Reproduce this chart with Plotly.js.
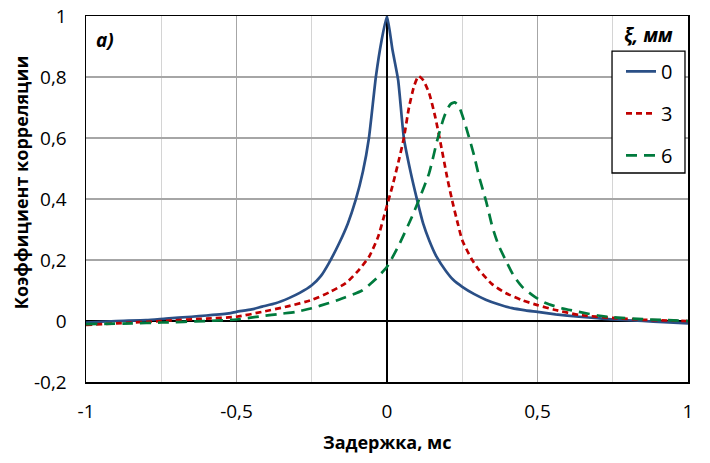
<!DOCTYPE html>
<html>
<head>
<meta charset="utf-8">
<script src="https://cdn.plot.ly/plotly-3.0.1.min.js"></script>
<style>
	html, body { margin: 0; padding: 0; background: #fff; }
	#chart { width: 710px; height: 463px; }
</style>
</head>
<body>
<div id="chart"></div>
<script>
// H| data
const names = ["0", "3", "6"]

const x0 = [-1, -0.9, -0.8, -0.735, -0.65, -0.6, -0.525, -0.5, -0.45, -0.415, -0.37, -0.326, -0.29, -0.25, -0.22, -0.193, -0.159, -0.13, -0.104, -0.08, -0.06, -0.037, -0.018, 0, 0.018, 0.037, 0.056, 0.078, 0.1, 0.12, 0.14, 0.165, 0.195, 0.22, 0.25, 0.29, 0.328, 0.37, 0.416, 0.46, 0.5, 0.56, 0.638, 0.7, 0.75, 0.85, 0.92, 1]
const y0 = [-0.005, 0, 0.003, 0.008, 0.014, 0.018, 0.025, 0.03, 0.038, 0.047, 0.058, 0.075, 0.092, 0.117, 0.147, 0.19, 0.255, 0.32, 0.397, 0.49, 0.6, 0.8, 0.92, 1, 0.89, 0.79, 0.6, 0.49, 0.397, 0.32, 0.265, 0.21, 0.165, 0.135, 0.112, 0.088, 0.07, 0.055, 0.042, 0.035, 0.03, 0.022, 0.014, 0.009, 0.005, 0, -0.004, -0.008]

const x3 = [-1, -0.9, -0.75, -0.6, -0.5, -0.415, -0.33, -0.25, -0.19, -0.137, -0.1, -0.06, -0.03, -0.004, 0.02, 0.04, 0.056, 0.073, 0.09, 0.105, 0.12, 0.14, 0.16, 0.178, 0.2, 0.216, 0.235, 0.25, 0.28, 0.306, 0.35, 0.394, 0.45, 0.5, 0.56, 0.638, 0.75, 0.85, 1]
const y3 = [-0.013, -0.008, 0, 0.008, 0.014, 0.03, 0.048, 0.069, 0.095, 0.124, 0.16, 0.21, 0.275, 0.364, 0.45, 0.53, 0.6, 0.7, 0.77, 0.803, 0.79, 0.747, 0.67, 0.583, 0.47, 0.397, 0.32, 0.265, 0.205, 0.167, 0.12, 0.092, 0.068, 0.052, 0.036, 0.02, 0.01, 0.004, 0]

const x6 = [-1, -0.85, -0.75, -0.6, -0.5, -0.415, -0.35, -0.303, -0.25, -0.193, -0.14, -0.083, -0.04, 0, 0.04, 0.083, 0.106, 0.14, 0.167, 0.19, 0.21, 0.225, 0.239, 0.255, 0.272, 0.29, 0.306, 0.33, 0.35, 0.37, 0.394, 0.42, 0.449, 0.49, 0.527, 0.58, 0.638, 0.7, 0.75, 0.85, 1]
const y6 = [-0.01, -0.008, -0.005, 0, 0.005, 0.016, 0.024, 0.03, 0.042, 0.059, 0.077, 0.1, 0.135, 0.178, 0.25, 0.342, 0.397, 0.485, 0.593, 0.67, 0.71, 0.717, 0.703, 0.66, 0.604, 0.54, 0.473, 0.39, 0.309, 0.25, 0.2, 0.15, 0.112, 0.08, 0.059, 0.042, 0.03, 0.018, 0.012, 0.006, 0]

const xTicks = [-1, -0.5, 0, 0.5, 1]
const xTickText = ["-1", "-0,5", "0", "0,5", "1"]
const yTicks = [-0.2, 0, 0.2, 0.4, 0.6, 0.8, 1]
const yTickText = ["-0,2", "0", "0,2", "0,4", "0,6", "0,8", "1"]

const FONT = "Open Sans, sans-serif"

const data = [
	{ x: x0, y: y0, name: names[0], legendgroup: "a", mode: "lines",
		line: { color: "#2a4f86", width: 2.7, shape: "spline", smoothing: 0.5 } },
	{ x: x3, y: y3, name: names[1], legendgroup: "b", mode: "lines",
		line: { color: "#c00000", width: 2.7, dash: "6px,4px", shape: "spline", smoothing: 0.6 } },
	{ x: x6, y: y6, name: names[2], legendgroup: "c", mode: "lines",
		line: { color: "#007a3d", width: 2.7, dash: "11px,7px", shape: "spline", smoothing: 0.6 } }
]

const layout = {
	width: 710, height: 463,
	margin: { l: 86, r: 22, t: 16, b: 81 },
	paper_bgcolor: "#fff",
	plot_bgcolor: "#fff",
	font: { family: FONT, size: 19, color: "#000" },
	showlegend: true,
	legend: {
		x: 0.8887, y: 0.902, xanchor: "left", yanchor: "top",
		bgcolor: "rgba(0,0,0,0)", borderwidth: 0,
		font: { family: FONT, size: 20 },
		tracegroupgap: 13,
		itemwidth: 30
	},
	// legend frame, white under the legend entries
	shapes: [
		{ type: "rect", xref: "paper", yref: "paper", x0: 0.8738, x1: 0.995, y0: 0.571, y1: 0.904,
			fillcolor: "#fff", line: { color: "#000", width: 1.3 }, layer: "above" }
	],
	xaxis: {
		range: [-1, 1], tickvals: xTicks, ticktext: xTickText, ticks: "",
		showgrid: true, gridcolor: "#a6a6a6", gridwidth: 1.3,
		minor: { dtick: 0.25, showgrid: true, gridcolor: "#d4d4d4", gridwidth: 1.3 },
		zeroline: true, zerolinecolor: "#000", zerolinewidth: 1.5,
		showline: true, linecolor: "#000", linewidth: 1.5, mirror: true,
		ticklabelstandoff: 12,
		tickfont: { family: FONT, size: 19 }
	},
	yaxis: {
		range: [-0.2, 1], tickvals: yTicks, ticktext: yTickText, ticks: "",
		showgrid: true, gridcolor: "#a6a6a6", gridwidth: 1.3,
		zeroline: true, zerolinecolor: "#000", zerolinewidth: 1.5,
		showline: true, linecolor: "#000", linewidth: 1.5, mirror: true,
		ticklabelstandoff: 14,
		tickfont: { family: FONT, size: 19 }
	},
	annotations: [
		{ text: "<b><i>a)</i></b>", xref: "paper", yref: "paper", x: 0.013, y: 0.975,
			xanchor: "left", yanchor: "top", showarrow: false, font: { family: FONT, size: 19 } },
		{ text: "<b><i>ξ, мм</i></b>", xref: "paper", yref: "paper", x: 0.935, y: 0.99,
			xanchor: "center", yanchor: "top", showarrow: false, font: { family: FONT, size: 19 } },
		{ text: "<b>Задержка, мс</b>", xref: "paper", yref: "paper", x: 0.5, y: -0.165,
			xanchor: "center", yanchor: "middle", showarrow: false, font: { family: FONT, size: 18 } },
		{ text: "<b>Коэффициент корреляции</b>", xref: "paper", yref: "paper", x: -0.108, y: 0.546,
			xanchor: "center", yanchor: "middle", textangle: -90, showarrow: false, font: { family: FONT, size: 18 } }
	]
}

Plotly.newPlot("chart", data, layout, { displayModeBar: false, staticPlot: true })
</script>
</body>
</html>
